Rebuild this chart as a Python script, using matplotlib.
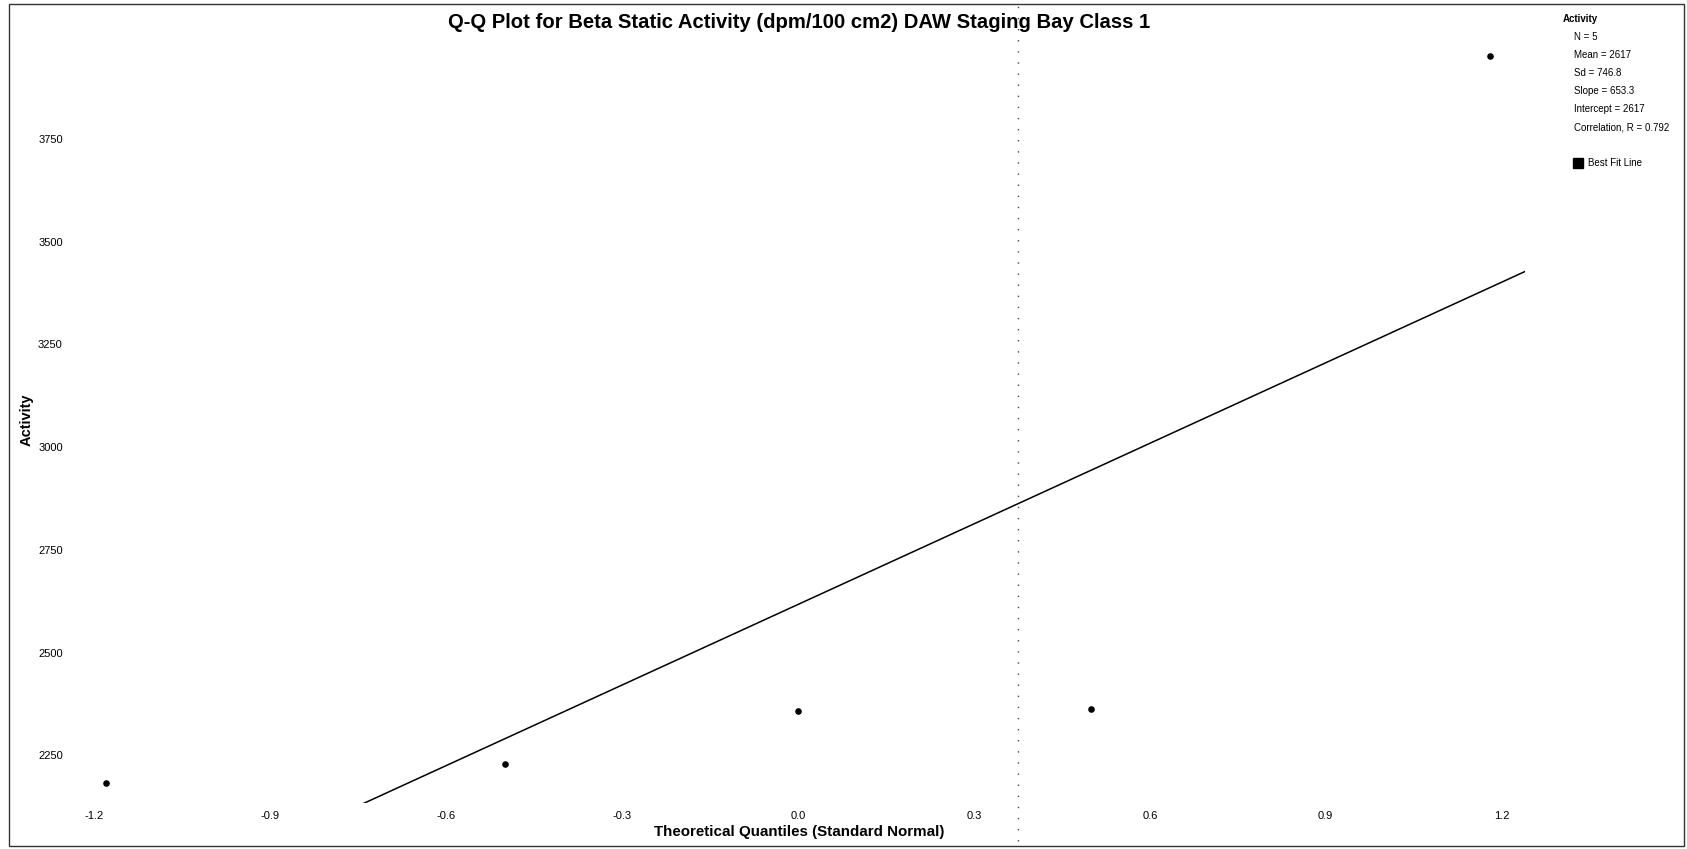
import matplotlib
matplotlib.use('Agg')
import matplotlib.pyplot as plt
from matplotlib.patches import Rectangle

# Q-Q data (Blom quantiles vs sorted activity)
quantiles = [-1.18, -0.50, 0.0, 0.50, 1.18]
activity = [2182, 2229, 2357, 2363, 3952]

slope = 653.3
intercept = 2617

x_ticks = [-1.2, -0.9, -0.6, -0.3, 0.0, 0.3, 0.6, 0.9, 1.2]
y_ticks = [2250, 2500, 2750, 3000, 3250, 3500, 3750]

stats_lines = ['N = 5', 'Mean = 2617', 'Sd = 746.8', 'Slope = 653.3',
               'Intercept = 2617', 'Correlation, R = 0.792']

fold_x = 0.375  # dotted fold line from the scan

narrow = ['Liberation Sans Narrow', 'Liberation Sans', 'DejaVu Sans']
bold = ['Liberation Sans', 'DejaVu Sans']

fig = plt.figure(figsize=(16.87, 8.49), dpi=100)
ax = fig.add_axes([0.0421, 0.0547, 0.8619, 0.9029])

ax.scatter(quantiles, activity, s=14, color='black', zorder=3)

xl = (-1.24, 1.24)
ax.plot(xl, [intercept + slope * v for v in xl], color='black', linewidth=1.1)
ax.axvline(fold_x, ymin=-0.05, ymax=1.06, color='#444444', linewidth=1.0,
           linestyle=(0, (1, 7)), clip_on=False)

ax.set_xlim(*xl)
ax.set_ylim(2135, 4000)
ax.set_xticks(x_ticks)
ax.set_xticklabels(['%.1f' % v for v in x_ticks], family=narrow, fontsize=8)
ax.set_yticks(y_ticks)
ax.set_yticklabels([str(v) for v in y_ticks], family=narrow, fontsize=8)
ax.tick_params(length=0, pad=6)
for s in ax.spines.values():
    s.set_visible(False)

fig.text(799 / 1687, 1 - 832 / 849, 'Theoretical Quantiles (Standard Normal)',
         ha='center', va='center', fontsize=10.9, fontweight='bold', family=bold)
fig.text(27 / 1687, 1 - 420 / 849, 'Activity', rotation=90,
         ha='center', va='center', fontsize=10.5, fontweight='bold', family=bold)
fig.text(799 / 1687, 1 - 22 / 849,
         'Q-Q Plot for Beta Static Activity (dpm/100 cm2) DAW Staging Bay Class 1',
         ha='center', va='center', fontsize=14.6, fontweight='bold', family=bold)

# stats box
fig.text(1563 / 1687, 1 - 19 / 849, 'Activity', ha='left', va='center',
         fontsize=7, fontweight='bold', family=narrow)
for i, t in enumerate(stats_lines):
    fig.text(1574 / 1687, 1 - (37 + i * 18) / 849, t, ha='left', va='center',
             fontsize=7, family=narrow)
fig.patches.append(Rectangle((1573 / 1687, 1 - 168 / 849), 10 / 1687, 10 / 849,
                             transform=fig.transFigure, facecolor='black',
                             edgecolor='black'))
fig.text(1588 / 1687, 1 - 163 / 849, 'Best Fit Line', ha='left', va='center',
         fontsize=7, family=narrow)

# page border
fig.patches.append(Rectangle((9 / 1687, 3 / 849), 1675 / 1687, 842 / 849,
                             transform=fig.transFigure, fill=False,
                             edgecolor='#333333', linewidth=1.0))

fig.savefig('out.png', dpi=100)
